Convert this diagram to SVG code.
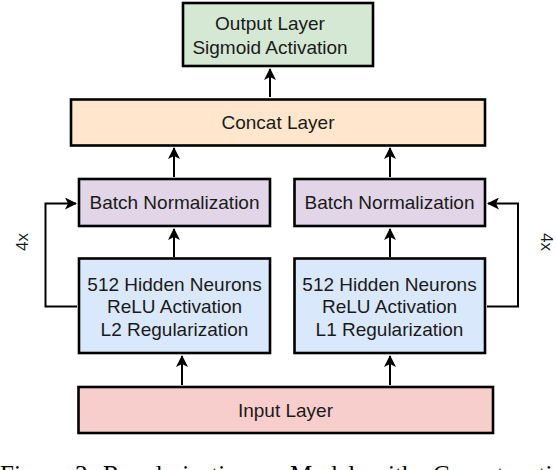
<svg xmlns="http://www.w3.org/2000/svg" width="556" height="470" viewBox="0 0 556 470">
<style>
.box{stroke:#000;stroke-width:2.6}
.t{font-family:"Liberation Sans",Arial,sans-serif;font-size:19px;fill:#1a1a1a;text-anchor:middle}
.r{font-family:"Liberation Sans",Arial,sans-serif;font-size:17px;fill:#1a1a1a;text-anchor:middle}
.c{fill:none;stroke:#000;stroke-width:2}
.cap{font-family:"Liberation Serif","Times New Roman",serif;font-size:25px;fill:#000}
</style>
<defs>
<marker id="ah" markerUnits="userSpaceOnUse" markerWidth="12" markerHeight="12" viewBox="0 0 12 12" refX="11" refY="6" orient="auto">
<path d="M0,0 L12,6 L0,12 L3,6 z" fill="#000"/>
</marker>
</defs>
<g id="connectors">
<path class="c" d="M270,97 V69" marker-end="url(#ah)"/>
<path class="c" d="M174,177 V148" marker-end="url(#ah)"/>
<path class="c" d="M390,177 V148" marker-end="url(#ah)"/>
<path class="c" d="M174,257 V229" marker-end="url(#ah)"/>
<path class="c" d="M390,257 V229" marker-end="url(#ah)"/>
<path class="c" d="M182,385 V356" marker-end="url(#ah)"/>
<path class="c" d="M390,385 V356" marker-end="url(#ah)"/>
<path class="c" d="M77,306.5 H45.5 V203.5 H76" marker-end="url(#ah)"/>
<path class="c" d="M487,306.5 H518 V203.5 H488" marker-end="url(#ah)"/>
</g>
<g id="output">
<rect class="box" x="183" y="3" width="190" height="63" fill="#d5e8d4"/>
<text class="t" x="270" y="29.5">Output Layer</text>
<text class="t" x="270" y="53.5">Sigmoid Activation</text>
</g>
<g id="concat">
<rect class="box" x="71" y="99.5" width="414" height="46" fill="#ffe6cc"/>
<text class="t" x="278" y="128.5">Concat Layer</text>
</g>
<g id="batch-left">
<rect class="box" x="79" y="179" width="191" height="47" fill="#e1d5e7"/>
<text class="t" x="174.5" y="208.5">Batch Normalization</text>
</g>
<g id="batch-right">
<rect class="box" x="294.5" y="179" width="190.5" height="47" fill="#e1d5e7"/>
<text class="t" x="389.5" y="208.5">Batch Normalization</text>
</g>
<g id="hidden-left">
<rect class="box" x="79" y="258.5" width="191" height="94.5" fill="#dae8fc"/>
<text class="t" x="174.5" y="290.7">512 Hidden Neurons</text>
<text class="t" x="174.5" y="313">ReLU Activation</text>
<text class="t" x="174.5" y="336">L2 Regularization</text>
</g>
<g id="hidden-right">
<rect class="box" x="294.5" y="258.5" width="190.5" height="94.5" fill="#dae8fc"/>
<text class="t" x="389.5" y="290.7">512 Hidden Neurons</text>
<text class="t" x="389.5" y="313">ReLU Activation</text>
<text class="t" x="389.5" y="336">L1 Regularization</text>
</g>
<g id="input">
<rect class="box" x="78.5" y="387" width="414.5" height="46" fill="#f8cecc"/>
<text class="t" x="285.5" y="417">Input Layer</text>
</g>
<g id="repeat-labels">
<text class="r" transform="translate(27.5,242) rotate(-90)">4x</text>
<text class="r" transform="translate(541,242) rotate(90)">4x</text>
</g>
<text class="cap" y="483"><tspan x="0">Figure</tspan><tspan x="75">3:</tspan><tspan x="103">Regularization</tspan><tspan x="290">Model</tspan><tspan x="370">with</tspan><tspan x="433">Concatenation</tspan></text>
</svg>
